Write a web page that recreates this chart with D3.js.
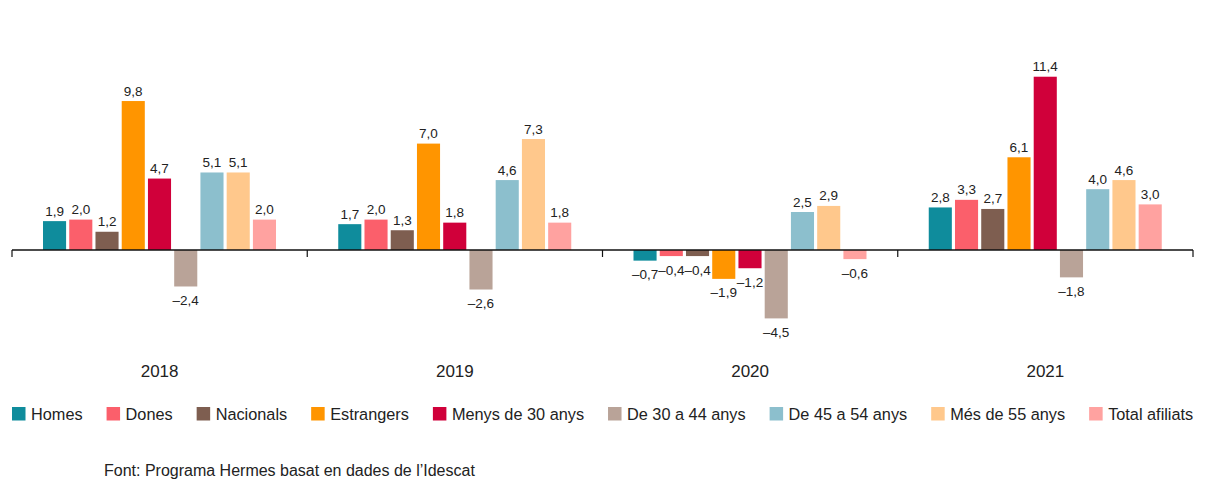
<!DOCTYPE html>
<html>
<head>
<meta charset="utf-8">
<script src="https://cdn.jsdelivr.net/npm/d3@7"></script>
<style>
  body { margin: 0; background: #fff; }
  svg text { font-family: "Liberation Sans", Arial, sans-serif; fill: #222; }
</style>
</head>
<body>
<svg id="chart1" width="1210" height="492"></svg>
<script>
var years = ['2018', '2019', '2020', '2021'];
var seriesNames = ['Homes', 'Dones', 'Nacionals', 'Estrangers', 'Menys de 30 anys',
    'De 30 a 44 anys', 'De 45 a 54 anys', 'Més de 55 anys', 'Total afiliats'];
var seriesColors = ['#0f8c9c', '#fb5f6b', '#7e5e50', '#ff9500', '#d0003a',
    '#b9a398', '#8cbfcd', '#ffc88c', '#ffa2a0'];

var homes = [1.9, 1.7, -0.7, 2.8];
var dones = [2.0, 2.0, -0.4, 3.3];
var nacionals = [1.2, 1.3, -0.4, 2.7];
var estrangers = [9.8, 7.0, -1.9, 6.1];
var menys30 = [4.7, 1.8, -1.2, 11.4];
var de30a44 = [-2.4, -2.6, -4.5, -1.8];
var de45a54 = [5.1, 4.6, 2.5, 4.0];
var mes55 = [5.1, 7.3, 2.9, 4.6];
var totalAfiliats = [2.0, 1.8, -0.6, 3.0];

var sourceText = 'Font: Programa Hermes basat en dades de l\u2019Idescat';

var seriesValues = [homes, dones, nacionals, estrangers, menys30,
    de30a44, de45a54, mes55, totalAfiliats];

// one row per year, one entry per series
var loadData = years.map(function (yr, i) {
    return {
        year: yr,
        values: seriesNames.map(function (name, j) {
            return { key: name, value: seriesValues[j][i], color: seriesColors[j] };
        })
    };
});

var svg = d3.select('#chart1');

var x0 = d3.scaleBand().domain(years).range([12, 1193]).padding(0);
var x1 = d3.scaleBand().domain(seriesNames).range([31, 264]).paddingInner(0.12).paddingOuter(0);
var y = d3.scaleLinear().domain([-5, 12]).range([326, 67.6]);

var locale = d3.formatLocale({ decimal: ',', thousands: '.', grouping: [3], currency: ['', '€'], minus: '\u2013' });
var fmt = locale.format('.1f');

var groups = svg.selectAll('g.year')
    .data(loadData)
    .enter().append('g')
    .attr('class', 'year')
    .attr('transform', function (d) { return 'translate(' + x0(d.year) + ',0)'; });

groups.selectAll('rect')
    .data(function (d) { return d.values; })
    .enter().append('rect')
    .attr('x', function (d) { return x1(d.key); })
    .attr('width', x1.bandwidth())
    .attr('y', function (d) { return y(Math.max(0, d.value)); })
    .attr('height', function (d) { return Math.abs(y(d.value) - y(0)); })
    .attr('fill', function (d) { return d.color; });

groups.selectAll('text.val')
    .data(function (d) { return d.values; })
    .enter().append('text')
    .attr('class', 'val')
    .attr('x', function (d) { return x1(d.key) + x1.bandwidth() / 2; })
    .attr('y', function (d) { return d.value >= 0 ? y(d.value) - 5.5 : y(d.value) + 18.5; })
    .attr('text-anchor', 'middle')
    .style('font-size', '13.5px')
    .text(function (d) { return fmt(d.value); });

// zero line with ticks at the group edges
svg.append('line')
    .attr('x1', 12).attr('x2', 1193)
    .attr('y1', y(0)).attr('y2', y(0))
    .attr('stroke', '#111').attr('stroke-width', 1.3);

var edges = years.map(function (yr) { return x0(yr); }).concat([x0.range()[1]]);
svg.selectAll('line.tick')
    .data(edges)
    .enter().append('line')
    .attr('class', 'tick')
    .attr('x1', function (d) { return d; }).attr('x2', function (d) { return d; })
    .attr('y1', y(0)).attr('y2', y(0) + 7)
    .attr('stroke', '#111').attr('stroke-width', 1.2);

svg.selectAll('text.yr')
    .data(years)
    .enter().append('text')
    .attr('class', 'yr')
    .attr('x', function (d) { return x0(d) + x0.bandwidth() / 2; })
    .attr('y', 377)
    .attr('text-anchor', 'middle')
    .style('font-size', '17px')
    .text(function (d) { return d; });

// legend, laid out left to right
var legend = svg.append('g').attr('class', 'legend');
var lx = 12;
seriesNames.forEach(function (name, j) {
    legend.append('rect')
        .attr('x', lx).attr('y', 407)
        .attr('width', 13.5).attr('height', 13.5)
        .attr('fill', seriesColors[j]);
    var t = legend.append('text')
        .attr('x', lx + 19).attr('y', 420)
        .style('font-size', '16.3px')
        .text(name);
    lx += 19 + t.node().getComputedTextLength() + 24;
});

svg.append('text')
    .attr('x', 104).attr('y', 476)
    .style('font-size', '16px')
    .text(sourceText);
</script>
</body>
</html>
